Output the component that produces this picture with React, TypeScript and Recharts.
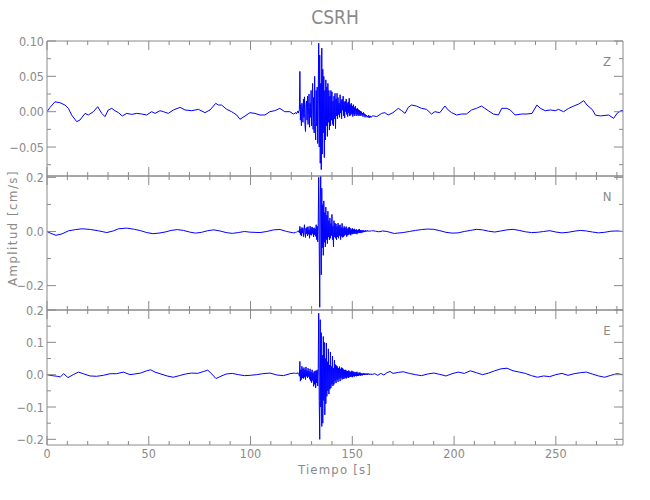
import { LineChart, Line, XAxis, YAxis } from "recharts";

const TITULO = "CSRH";
const ETIQUETA_Y = "Amplitud [cm/s]";
const ETIQUETA_X = "Tiempo [s]";

const RAFAGA_INICIO = 122;
const RAFAGA_PASO = 0.25;

const zAntes: [number, number][] = [
  [0, 0.0], [1.5, 0.006], [3.9, 0.014], [6.4, 0.0127], [8.8, 0.0094], [10.5, 0.0047],
  [12.1, -0.0047], [14.6, -0.0141], [16.2, -0.0118], [18.7, -0.0024], [20.3, -0.0047],
  [22.8, 0.0], [24.9, 0.0071], [26.9, -0.0024], [28.5, -0.0071], [30.1, 0.0024],
  [31.8, 0.0047], [33.4, 0.0014], [35.1, -0.0014], [37.0, -0.0061], [39.2, -0.0024],
  [41.6, -0.0038], [44.1, -0.0024], [46.5, -0.0033], [49.0, -0.0047], [51.4, 0.0],
  [53.1, -0.0024], [55.5, 0.0014], [57.2, 0.0], [59.6, -0.0024], [62.1, 0.0024],
  [65.4, 0.0061], [67.8, 0.0024], [71.1, 0.0014], [74.4, 0.0033], [77.6, -0.0014],
  [80.1, 0.0024], [82.9, 0.0118], [84.2, 0.0094], [85.8, 0.0094], [88.3, 0.0033],
  [90.7, 0.0], [93.2, -0.0047], [94.8, -0.0108], [97.3, -0.0061], [99.7, -0.0014],
  [102.2, -0.0024], [104.6, -0.0047], [107.1, -0.0047], [109.5, 0.0], [111.9, 0.0014],
  [114.4, 0.0047], [116.8, 0.0], [119.3, 0.0], [121.0, -0.0033],
];
const zRafaga = [
  -0.002, -0.001, -0.003, -0.002, -0.001, 0.001, -0.002, 0.0,
  0.003, 0.057, -0.012, 0.01, -0.02, 0.012, 0.004, -0.015,
  0.018, -0.008, 0.021, -0.018, -0.028, 0.01, 0.015, -0.012,
  0.022, -0.018, 0.006, 0.025, -0.022, 0.012, -0.008, 0.03,
  -0.02, 0.015, 0.04, -0.025, 0.02, -0.03, 0.05, -0.015,
  -0.04, 0.03, -0.02, 0.035, -0.045, 0.02, 0.097, -0.05,
  0.08, -0.073, 0.04, -0.082, 0.09, -0.06, 0.06, -0.03,
  0.05, -0.065, 0.03, -0.04, 0.045, -0.02, 0.035, -0.035,
  0.04, -0.015, 0.03, -0.026, 0.022, -0.02, 0.03, -0.012,
  0.028, -0.018, 0.015, -0.02, 0.022, -0.01, 0.026, -0.024,
  0.018, -0.006, 0.026, -0.01, 0.02, -0.004, 0.012, -0.008,
  0.024, -0.002, 0.016, -0.01, 0.018, 0.002, 0.022, -0.006,
  0.014, -0.009, 0.015, 0.0, 0.018, -0.004, 0.012, -0.007,
  0.014, -0.002, 0.019, -0.006, 0.01, -0.005, 0.012, -0.003,
  0.008, -0.007, 0.01, -0.004, 0.006, -0.006, 0.008, -0.003,
  0.004, -0.006, 0.005, -0.004, 0.003, -0.006, 0.002, -0.005,
  0.001, -0.006, 0.0, -0.004, -0.002, -0.007, -0.001, -0.005,
  -0.003, -0.008, -0.004, -0.006, -0.005, -0.008, -0.006, -0.007,
  -0.005, -0.009, -0.006, -0.008, -0.006, -0.008, -0.007, -0.006,
  -0.006,
];
const zDespues: [number, number][] = [
  [160.5, -0.006], [162, -0.007], [164.4, -0.0024], [166, -0.0014], [167.6, -0.0047],
  [170, -0.0014], [172.6, 0.0047], [174.3, 0.0014], [175.9, -0.0024], [177.5, 0.0061],
  [179.1, 0.0094], [181.5, 0.008], [184, 0.0047], [186.5, 0.0033], [188.9, -0.0033],
  [190.6, 0.0], [193, -0.0014], [195.5, 0.008], [197.1, 0.0024], [198.8, -0.0014],
  [201.2, -0.0047], [203.7, -0.0033], [206.1, -0.0033], [208.6, 0.0024], [211, 0.0047],
  [213.5, 0.008], [215.1, 0.0047], [216.8, 0.0014], [219.3, -0.0033], [221.8, -0.0047],
  [223.4, 0.0047], [225.9, 0.0047], [227.6, 0.0024], [230, -0.0047], [233.3, -0.0033],
  [235.8, -0.0033], [238.3, -0.0024], [240.7, 0.0094], [242.4, 0.0047], [244.8, 0.0014],
  [247.3, 0.0024], [249.7, 0.0014], [251.3, 0.0033], [253.8, 0.0], [256.3, 0.0047],
  [258.8, 0.008], [261.2, 0.0108], [263.7, 0.0156], [265.3, 0.0094], [267.9, 0.003],
  [269.5, -0.005], [272, -0.006], [275.9, -0.0047], [278.4, -0.0094], [280.2, -0.002],
  [282.0, 0.0014], [283, 0.0014],
];

const nAntes: [number, number][] = [
  [0, 0.0], [1.6, -0.006], [4.4, -0.014], [7.3, -0.009], [10.6, 0.0025], [14, 0.007],
  [17.2, 0.01], [21.3, 0.0075], [25.3, 0.0025], [29.4, -0.004], [32.7, 0.0025],
  [35.1, 0.01], [39.2, 0.0125], [43, 0.008], [46, 0.003], [49, -0.004], [52, -0.008],
  [55, -0.006], [58, -0.002], [61, 0.004], [64, 0.007], [67, 0.004], [70, -0.002],
  [73, -0.006], [76, -0.003], [79, 0.003], [82, 0.006], [85, 0.002], [88, -0.004],
  [91, -0.007], [94, -0.004], [97, 0.0], [99.8, -0.0025], [104.7, -0.004], [108, 0.0],
  [111.3, 0.006], [114.5, 0.0075], [117.8, 0.0], [121.1, -0.005],
];
const nRafaga = [
  -0.004, -0.002, -0.003, -0.001, 0.0, 0.002, -0.001, 0.003,
  -0.005, 0.019, -0.012, 0.01, -0.017, 0.015, -0.006, 0.012,
  -0.019, 0.008, 0.025, -0.01, -0.022, 0.012, -0.008, 0.016,
  -0.016, 0.018, -0.01, 0.006, -0.025, 0.02, -0.012, 0.014,
  -0.014, 0.017, -0.008, 0.012, -0.02, 0.014, -0.012, 0.01,
  -0.018, 0.025, -0.03, 0.02, -0.038, 0.03, 0.2, -0.05,
  -0.28, 0.12, 0.215, -0.16, 0.16, -0.06, 0.1, -0.088,
  0.113, -0.04, 0.07, -0.057, 0.09, -0.03, 0.06, -0.045,
  0.075, -0.02, 0.04, -0.031, 0.05, -0.025, 0.03, -0.015,
  0.063, -0.03, 0.02, -0.057, 0.04, -0.02, 0.031, -0.025,
  0.028, -0.031, 0.018, -0.02, 0.031, -0.025, 0.022, -0.015,
  0.025, -0.03, 0.015, -0.018, 0.03, -0.022, 0.012, -0.02,
  0.019, -0.015, 0.014, -0.012, 0.018, -0.019, 0.01, -0.014,
  0.014, -0.012, 0.017, -0.01, 0.012, -0.014, 0.008, -0.009,
  0.012, -0.01, 0.008, -0.008, 0.01, -0.009, 0.006, -0.007,
  0.008, -0.01, 0.005, -0.006, 0.007, -0.006, 0.009, -0.005,
  0.005, -0.006, 0.004, -0.004, 0.004, -0.003, 0.004, -0.002,
  0.003, -0.002, 0.004, 0.0, 0.003, 0.0, 0.004, 0.001,
  0.002, 0.0, 0.003, 0.001, 0.002, 0.001, 0.003, 0.002,
  0.003,
];
const nDespues: [number, number][] = [
  [161.5, 0.001], [163, -0.001], [165, 0.002], [167, 0.0], [169, -0.004], [170.7, -0.0075],
  [172, -0.006], [175, -0.004], [178, 0.0], [181, 0.004], [184, 0.007], [187, 0.009],
  [190, 0.008], [193, 0.003], [196, -0.003], [199, -0.006], [202, -0.005], [205, 0.0],
  [208, 0.004], [211, 0.008], [214, 0.006], [217, 0.001], [220, -0.002], [223, 0.002],
  [226, 0.006], [229, 0.008], [232, 0.004], [235, -0.001], [238, -0.004], [241, -0.003],
  [244, 0.0], [247, 0.003], [250, -0.002], [253, -0.005], [256, -0.003], [259, 0.001],
  [262, 0.004], [265, 0.002], [268, -0.002], [271, -0.005], [274, -0.003], [277, 0.001],
  [280, 0.002], [283, 0.0],
];

const eAntes: [number, number][] = [
  [0, 0.0], [2.5, -0.003], [5, -0.005], [6.6, -0.007], [8.2, 0.003], [10.3, -0.009],
  [12.9, 0.0], [15.4, 0.008], [17.8, 0.003], [21.1, -0.004], [24.4, -0.005], [27.7, -0.002],
  [31, 0.003], [34.2, 0.003], [37.5, 0.008], [40.8, 0.0], [43, 0.002], [46, 0.005],
  [49, 0.012], [51, 0.015], [53, 0.008], [56, 0.002], [59, -0.004], [62, -0.008],
  [65, -0.003], [68, 0.002], [71, 0.005], [74, 0.004], [77, 0.01], [79, 0.014],
  [81, 0.002], [83, -0.012], [85, -0.006], [88, 0.002], [91, 0.004], [94, 0.0],
  [97, -0.003], [99.8, -0.002], [103, 0.0], [106, 0.003], [109.6, 0.005], [112.9, -0.001],
  [116.2, -0.003], [119.4, 0.003], [121.5, 0.005],
];
const eRafaga = [
  0.004, 0.005, 0.003, 0.005, 0.006, 0.003, 0.005, 0.004,
  -0.005, 0.041, -0.02, 0.015, -0.015, 0.026, -0.01, 0.018,
  -0.012, 0.022, -0.008, 0.015, -0.015, 0.024, -0.005, 0.012,
  -0.01, 0.02, -0.006, 0.01, -0.014, 0.018, -0.02, 0.008,
  -0.025, 0.015, -0.018, 0.005, -0.036, 0.01, -0.03, 0.012,
  -0.041, 0.012, -0.025, 0.015, -0.035, 0.02, 0.19, -0.08,
  -0.2, 0.17, -0.1, 0.13, -0.16, 0.06, -0.15, 0.118,
  -0.08, 0.1, -0.124, 0.05, -0.09, 0.098, -0.067, 0.04,
  -0.05, 0.08, -0.06, 0.03, -0.045, 0.07, -0.041, 0.025,
  -0.03, 0.057, -0.035, 0.02, -0.03, 0.045, -0.02, 0.031,
  -0.026, 0.028, -0.015, 0.025, -0.022, 0.02, -0.012, 0.025,
  -0.02, 0.018, -0.01, 0.022, -0.015, 0.02, -0.013, 0.016,
  -0.012, 0.014, -0.01, 0.015, -0.012, 0.012, -0.008, 0.011,
  -0.01, 0.013, -0.008, 0.01, -0.007, 0.009, -0.006, 0.012,
  -0.008, 0.01, -0.005, 0.009, -0.006, 0.008, -0.004, 0.007,
  -0.005, 0.009, -0.004, 0.006, -0.004, 0.006, -0.002, 0.007,
  -0.003, 0.005, -0.002, 0.004, -0.002, 0.004, -0.001, 0.005,
  -0.001, 0.003, 0.0, 0.004, 0.0, 0.003, -0.001, 0.004,
  0.001, 0.003, 0.0, 0.002, 0.001, 0.003, 0.0, 0.002,
  0.001,
];
const eDespues: [number, number][] = [
  [161, 0.003], [162.5, -0.002], [164, 0.004], [165.5, -0.001], [167, 0.006], [168.5, 0.01],
  [170, 0.004], [172.6, 0.007], [175, 0.009], [178, 0.004], [181, 0.0], [184, -0.003],
  [187, 0.002], [190, 0.005], [193, 0.001], [196, -0.004], [199, 0.003], [202, 0.008],
  [205, 0.004], [208, 0.012], [211, 0.006], [214, 0.0], [217, 0.005], [220, 0.012],
  [223, 0.018], [226, 0.02], [229, 0.012], [232, 0.008], [235, 0.004], [238, -0.003],
  [241, -0.008], [244, -0.004], [247, -0.006], [250, 0.0], [253, 0.004], [256, -0.002],
  [259, 0.003], [262, 0.006], [265, 0.008], [268, 0.002], [271, -0.004], [274, -0.008],
  [277, -0.002], [280, 0.003], [283, 0.0],
];

const ticksTiempo = [0, 10, 20, 30, 40, 50, 60, 70, 80, 90, 100, 110, 120, 130, 140, 150, 160, 170, 180, 190, 200, 210, 220, 230, 240, 250, 260, 270, 280];
const etiquetasTiempo = [0, 50, 100, 150, 200, 250];

const zTicks = [0.1, 0.075, 0.05, 0.025, 0, -0.025, -0.05, -0.075];
const zEtiquetas = [0.1, 0.05, 0, -0.05];
const nTicks = [0.2, 0.1, 0, -0.1, -0.2];
const nEtiquetas = [0.2, 0, -0.2];
const eTicks = [0.2, 0.15, 0.1, 0.05, 0, -0.05, -0.1, -0.15, -0.2];
const eEtiquetas = [0.2, 0.1, 0, -0.1, -0.2];

const GRIS = "#8a8a8a";
const AZUL = "#0000ff";
const FUENTE = "'Liberation Sans Narrow', 'DejaVu Sans Condensed', sans-serif";
const IZQ = 47;
const DER = 623;

function armarSerie(antes: [number, number][], rafaga: number[], despues: [number, number][]) {
  const puntos = antes.map(([t, v]) => ({ t, v }));
  rafaga.forEach((v, i) => puntos.push({ t: RAFAGA_INICIO + i * RAFAGA_PASO, v }));
  despues.forEach(([t, v]) => puntos.push({ t, v }));
  return puntos;
}

const contiene = (lista: number[], v: number) => lista.some((x) => Math.abs(x - v) < 1e-9);

const formato = (v: number, dec: number) => {
  const s = Math.abs(v).toFixed(dec);
  return v < -1e-9 ? "\u2212" + s : s;
};

function tickX(p: any, lado: "arriba" | "abajo", conEtiqueta: boolean) {
  const mayor = contiene(etiquetasTiempo, p.payload.value);
  const largo = mayor ? 9 : 4;
  const dir = lado === "abajo" ? -1 : 1;
  return (
    <g>
      <line x1={p.x} y1={p.y} x2={p.x} y2={p.y + dir * largo} stroke={GRIS} />
      {conEtiqueta && lado === "abajo" && mayor && (
        <text x={p.x} y={p.y + 13} textAnchor="middle" fill={GRIS} fontSize={12.5} fontFamily={FUENTE}>
          {p.payload.value}
        </text>
      )}
    </g>
  );
}

function tickY(p: any, lado: "izq" | "der", etiquetas: number[], dec: number) {
  const mayor = contiene(etiquetas, p.payload.value);
  const largo = mayor ? 9 : 4;
  const dir = lado === "izq" ? 1 : -1;
  return (
    <g>
      <line x1={p.x} y1={p.y} x2={p.x + dir * largo} y2={p.y} stroke={GRIS} />
      {lado === "izq" && mayor && (
        <text x={p.x - 3} y={p.y + 4.5} textAnchor="end" fill={GRIS} fontSize={12.5} fontFamily={FUENTE}>
          {formato(p.payload.value, dec)}
        </text>
      )}
    </g>
  );
}

type PanelProps = {
  datos: { t: number; v: number }[];
  arriba: number;
  abajo: number;
  dominio: [number, number];
  ticks: number[];
  etiquetas: number[];
  dec: number;
  ejeTiempo: boolean;
};

function Panel({ datos, arriba, abajo, dominio, ticks, etiquetas, dec, ejeTiempo }: PanelProps) {
  // los ejes ocupan 1 px para que Recharts los dibuje
  return (
    <div style={{ position: "absolute", left: 0, top: 0 }}>
      <LineChart
        width={650}
        height={500}
        data={datos}
        margin={{ top: arriba - 1, bottom: 500 - abajo - 1, left: IZQ - 1, right: 650 - DER - 1 }}
      >
        <XAxis
          xAxisId="abajo"
          dataKey="t"
          type="number"
          domain={[0, 283]}
          allowDataOverflow
          ticks={ticksTiempo}
          interval={0}
          height={1}
          tickSize={0}
          tickMargin={0}
          axisLine={{ stroke: GRIS }}
          tickLine={false}
          tick={(p: any) => tickX(p, "abajo", ejeTiempo)}
        />
        <XAxis
          xAxisId="arriba"
          orientation="top"
          dataKey="t"
          type="number"
          domain={[0, 283]}
          allowDataOverflow
          ticks={ticksTiempo}
          interval={0}
          height={1}
          tickSize={0}
          tickMargin={0}
          axisLine={{ stroke: GRIS }}
          tickLine={false}
          tick={(p: any) => tickX(p, "arriba", false)}
        />
        <YAxis
          yAxisId="izq"
          type="number"
          domain={dominio}
          allowDataOverflow
          ticks={ticks}
          interval={0}
          width={1}
          tickSize={0}
          tickMargin={0}
          axisLine={{ stroke: GRIS }}
          tickLine={false}
          tick={(p: any) => tickY(p, "izq", etiquetas, dec)}
        />
        <YAxis
          yAxisId="der"
          orientation="right"
          type="number"
          domain={dominio}
          allowDataOverflow
          ticks={ticks}
          interval={0}
          width={1}
          tickSize={0}
          tickMargin={0}
          axisLine={{ stroke: GRIS }}
          tickLine={false}
          tick={(p: any) => tickY(p, "der", etiquetas, dec)}
        />
        <Line
          xAxisId="abajo"
          yAxisId="izq"
          type="linear"
          dataKey="v"
          stroke={AZUL}
          strokeWidth={1}
          dot={false}
          isAnimationActive={false}
        />
      </LineChart>
    </div>
  );
}

export default function App() {
  const zDatos = armarSerie(zAntes, zRafaga, zDespues);
  const nDatos = armarSerie(nAntes, nRafaga, nDespues);
  const eDatos = armarSerie(eAntes, eRafaga, eDespues);
  return (
    <div style={{ position: "absolute", left: 0, top: 0, width: 650, height: 500, background: "#fff" }}>
      <Panel datos={zDatos} arriba={41} abajo={176} dominio={[-0.091, 0.1]} ticks={zTicks} etiquetas={zEtiquetas} dec={2} ejeTiempo={false} />
      <Panel datos={nDatos} arriba={176} abajo={310} dominio={[-0.29, 0.205]} ticks={nTicks} etiquetas={nEtiquetas} dec={1} ejeTiempo={false} />
      <Panel datos={eDatos} arriba={310} abajo={445} dominio={[-0.2175, 0.2]} ticks={eTicks} etiquetas={eEtiquetas} dec={1} ejeTiempo={true} />
      <svg width={650} height={500} style={{ position: "absolute", left: 0, top: 0, pointerEvents: "none" }}>
        <text x={335} y={24} textAnchor="middle" fill={GRIS} fontSize={19} fontFamily={FUENTE}>
          {TITULO}
        </text>
        <text x={335} y={474} textAnchor="middle" fill={GRIS} fontSize={13} letterSpacing={1.2} fontFamily={FUENTE}>
          {ETIQUETA_X}
        </text>
        <text
          x={12}
          y={228}
          textAnchor="middle"
          dominantBaseline="central"
          transform="rotate(-90, 12, 228)"
          fill={GRIS}
          fontSize={13}
          letterSpacing={1.5}
          fontFamily={FUENTE}
        >
          {ETIQUETA_Y}
        </text>
        <text x={607} y={66} textAnchor="middle" fill={GRIS} fontSize={13} fontFamily={FUENTE}>Z</text>
        <text x={607} y={201} textAnchor="middle" fill={GRIS} fontSize={13} fontFamily={FUENTE}>N</text>
        <text x={607} y={335} textAnchor="middle" fill={GRIS} fontSize={13} fontFamily={FUENTE}>E</text>
      </svg>
    </div>
  );
}
